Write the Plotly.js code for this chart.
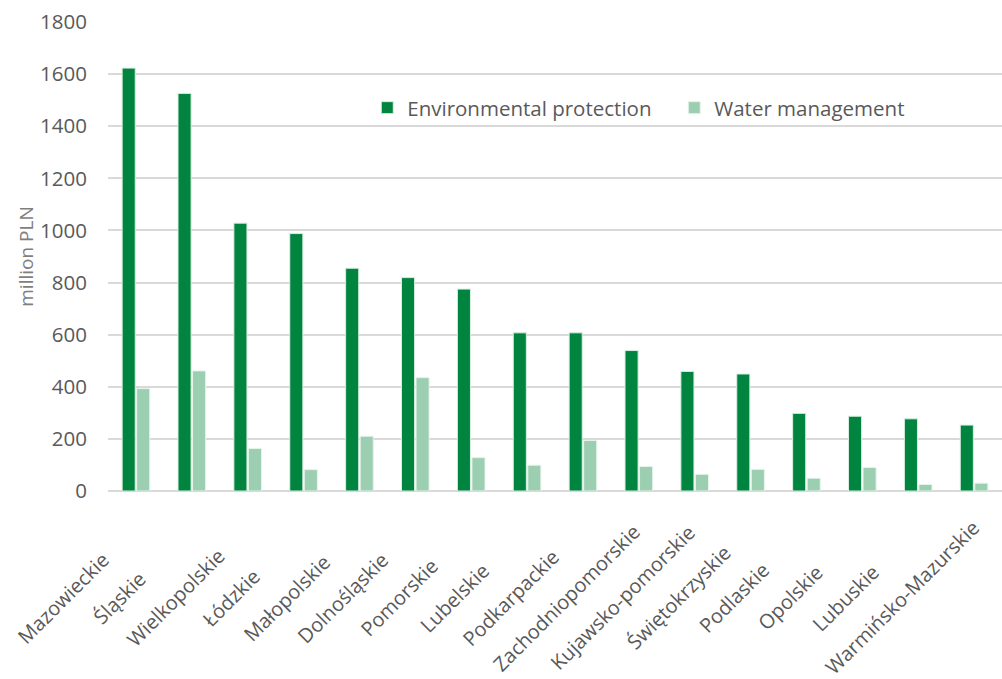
<!DOCTYPE html>
<html>
<head>
<meta charset="utf-8">
<script src="https://cdn.plot.ly/plotly-3.0.1.min.js"></script>
<style>html,body{margin:0;padding:0;background:#fff;}#chart{width:1002px;height:679px;}</style>
</head>
<body>
<div id="chart"></div>
<script>
const regions = ["Mazowieckie","Śląskie","Wielkopolskie","Łódzkie","Małopolskie","Dolnośląskie","Pomorskie","Lubelskie","Podkarpackie","Zachodniopomorskie","Kujawsko-pomorskie","Świętokrzyskie","Podlaskie","Opolskie","Lubuskie","Warmińsko-Mazurskie"];
const environmentalProtection = [1623,1526,1028,988,855,819,775,607,607,539,459,449,298,287,277,253];
const waterManagement = [393,461,163,82,210,435,128,99,194,94,64,83,49,90,25,30];
const yTicks = [0,200,400,600,800,1000,1200,1400,1600,1800];

const fontFam = "'Open Sans', sans-serif";
const data = [
  {type:"bar", name:"Environmental protection", x:regions, y:environmentalProtection,
   marker:{color:"#00843F", line:{color:"#d8eee0", width:1}}},
  {type:"bar", name:"Water management", x:regions, y:waterManagement,
   marker:{color:"#9CCFB2", line:{color:"#e6f3ea", width:1}}}
];
const categoryLabels = regions.map(r => ({
  x:r, xref:"x", y:-0.228, yref:"paper", text:r, showarrow:false,
  textangle:-45, xanchor:"center", yanchor:"middle", xshift:-72,
  font:{size:20, color:"#595959", family:fontFam}
}));
const layout = {
  width:1002, height:679,
  margin:{l:108, r:0, t:22, b:188, autoexpand:false},
  paper_bgcolor:"#fff", plot_bgcolor:"#fff",
  font:{family:fontFam, color:"#595959", size:18},
  barmode:"group", bargap:0.48, bargroupgap:0.1,
  showlegend:true,
  legend:{orientation:"h", x:0.29, xanchor:"left", y:0.817, yanchor:"middle",
          font:{size:20.5, color:"#595959"}, bgcolor:"rgba(0,0,0,0)", traceorder:"normal",
          itemwidth:30, entrywidth:262},
  xaxis:{type:"category", range:[-0.5, regions.length-0.5], autorange:false,
         showticklabels:false, showgrid:false, zeroline:false, showline:false,
         ticks:"", automargin:false},
  yaxis:{range:[0,1800], tickvals:yTicks, ticktext:yTicks.map(String), showgrid:true,
         gridcolor:"#d9d9d9", gridwidth:2, zeroline:true, zerolinecolor:"#d9d9d9", zerolinewidth:2,
         ticks:"", ticklen:0, ticklabelstandoff:20, tickfont:{size:20.5, color:"#595959"}, automargin:false,
         title:{text:"million PLN", font:{size:19, color:"#7f7f7f"}, standoff:1}},
  annotations:categoryLabels
};
Plotly.newPlot("chart", data, layout, {displayModeBar:false, staticPlot:true});
</script>
</body>
</html>
